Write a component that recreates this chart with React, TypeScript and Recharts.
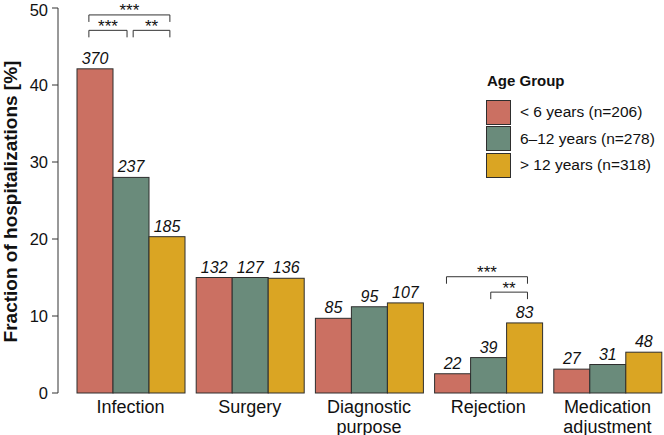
import React from 'react';
import { BarChart, Bar, XAxis, YAxis, Legend, LabelList } from 'recharts';

const categories = ['Infection', 'Surgery', 'Diagnostic\npurpose', 'Rejection', 'Medication\nadjustment'];
const under6 = [42.1, 15.0, 9.7, 2.5, 3.1];
const age6to12 = [28.0, 15.0, 11.2, 4.6, 3.7];
const over12 = [20.3, 14.9, 11.7, 9.1, 5.3];
const countsUnder6 = [370, 132, 85, 22, 27];
const counts6to12 = [237, 127, 95, 39, 31];
const countsOver12 = [185, 136, 107, 83, 48];
const groupNames = ['< 6 years (n=206)', '6–12 years (n=278)', '> 12 years (n=318)'];
const yTicks = [0, 10, 20, 30, 40, 50];

// significance brackets: series index from/to, height in %
const brackets = [
  { category: 'Infection', from: 0, to: 2, level: 49.1, label: '***' },
  { category: 'Infection', from: 0, to: 1, level: 47.1, label: '***' },
  { category: 'Infection', from: 1, to: 2, level: 47.1, label: '**' },
  { category: 'Rejection', from: 0, to: 2, level: 15.1, label: '***' },
  { category: 'Rejection', from: 1, to: 2, level: 13.1, label: '**' },
];

const colors = ['#CB7062', '#6A8B7B', '#DAA523'];
const edge = '#2e2e2e';
const FONT = '"Liberation Sans", Arial, Helvetica, sans-serif';

const data = categories.map((c, i) => ({
  category: c,
  g0: under6[i],
  g1: age6to12[i],
  g2: over12[i],
  n0: countsUnder6[i],
  n1: counts6to12[i],
  n2: countsOver12[i],
}));

const leftOff = [-0.17, 0.06, 0];
const rightOff = [0, -0.11, 0.08];

const makeShape = (idx: number) => (props: any) => {
  const { x, y, width, height, payload } = props;
  const rect = <rect x={x} y={y} width={width} height={height} fill={colors[idx]} stroke={edge} strokeWidth={1} />;
  if (idx !== 2) return rect;
  const list = brackets.filter((b) => b.category === payload.category);
  if (!list.length) return rect;
  const bottom = y + height;
  const perUnit = height / payload.g2;
  const centers = [x - 1.5 * width, x - 0.5 * width, x + 0.5 * width];
  return (
    <g>
      {rect}
      {list.map((b, k) => {
        const x1 = centers[b.from] + leftOff[b.from] * width;
        const x2 = centers[b.to] + rightOff[b.to] * width;
        const yb = bottom - b.level * perUnit;
        return (
          <g key={k}>
            <path d={`M${x1},${yb + 7}V${yb}H${x2}V${yb + 7}`} fill="none" stroke="#333" strokeWidth={1} />
            <text x={(x1 + x2) / 2} y={yb + 1.5} textAnchor="middle" fontSize={17} fill="#111">
              {b.label}
            </text>
          </g>
        );
      })}
    </g>
  );
};

const CategoryTick = (props: any) => {
  const { x, y, payload } = props;
  const lines = String(payload.value).split('\n');
  return (
    <text x={x} y={y} textAnchor="middle" fontSize={18} fill="#111">
      {lines.map((l, i) => (
        <tspan key={i} x={x} dy={i === 0 ? 12 : 19.5}>
          {l}
        </tspan>
      ))}
    </text>
  );
};

const LegendBox = () => (
  <div style={{ fontFamily: FONT, color: '#111' }}>
    <div style={{ fontWeight: 'bold', fontSize: 15, lineHeight: '18px', marginBottom: 9, marginLeft: 2 }}>Age Group</div>
    {groupNames.map((g, i) => (
      <div key={g} style={{ display: 'flex', alignItems: 'center', height: 26.5 }}>
        <div style={{ width: 23, height: 23, background: colors[i], border: `1px solid ${edge}`, marginLeft: 1 }} />
        <span style={{ fontSize: 15.5, marginLeft: 9 }}>{g}</span>
      </div>
    ))}
  </div>
);

const YTitle = (props: any) => {
  const { viewBox } = props;
  const cx = viewBox.x + 10;
  const cy = viewBox.y + viewBox.height / 2 + 1;
  return (
    <text x={cx} y={cy} transform={`rotate(-90 ${cx} ${cy})`} textAnchor="middle" dominantBaseline="central" fontSize={19} fontWeight="bold" fill="#111">
      Fraction of hospitalizations [%]
    </text>
  );
};

export default function App() {
  return (
    <div style={{ position: 'absolute', left: 0, top: 0, fontFamily: FONT }}>
      <BarChart width={664} height={435} data={data} margin={{ top: 8, right: -3, left: 0, bottom: 0 }} barGap={0} barCategoryGap="5%">
        <XAxis dataKey="category" axisLine={false} tickLine={false} interval={0} height={42} padding={{ left: 13, right: 0 }} tick={<CategoryTick />} />
        <YAxis
          domain={[0, 50]}
          ticks={yTicks}
          width={58}
          tickSize={6}
          tickMargin={4}
          axisLine={{ stroke: '#333' }}
          tickLine={{ stroke: '#333' }}
          tick={{ fill: '#111', fontSize: 16.5 }}
          label={<YTitle />}
        />
        <Legend layout="vertical" align="center" verticalAlign="middle" content={<LegendBox />} wrapperStyle={{ position: 'absolute', left: 485, top: 72, width: 180 }} />
        {[0, 1, 2].map((i) => (
          <Bar key={i} dataKey={`g${i}`} name={groupNames[i]} fill={colors[i]} barSize={36} shape={makeShape(i)} isAnimationActive={false}>
            <LabelList dataKey={`n${i}`} position="top" offset={5} fontSize={16} fontStyle="italic" fill="#111" />
          </Bar>
        ))}
      </BarChart>
    </div>
  );
}
